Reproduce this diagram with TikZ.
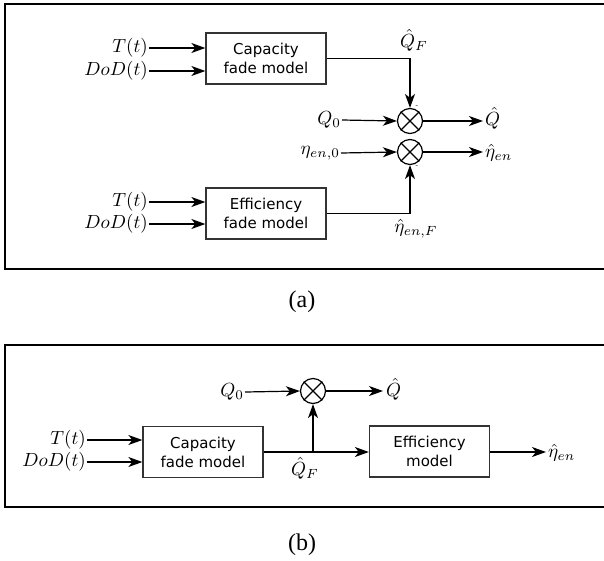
\documentclass[tikz,border=0pt]{standalone}
\usepackage{graphicx}
\usepackage{fontspec}
\setsansfont{DejaVu Sans}
\newfontfamily\capfont{Liberation Serif}
\usetikzlibrary{arrows.meta}
\newcommand{\mlbl}[1]{\scalebox{1.9}{$#1$}}
\begin{document}
\begin{tikzpicture}[x=1pt,y=-1pt,
  mathlbl/.style={inner sep=1pt},
  blk/.style={draw=black!80,line width=1.3pt,minimum width=120pt,minimum height=51pt,
    align=center,inner sep=0pt,font=\sffamily\fontsize{15}{19}\selectfont},
  mult/.style={draw,circle,line width=1.2pt,minimum size=25pt,inner sep=0pt},
  conn/.style={line width=1.2pt,-{Stealth[length=14pt,width=10pt,inset=4pt]}},
  plainline/.style={line width=1.2pt},
  frame/.style={line width=2.4pt},
  minus/.style={inner sep=0pt,font=\fontsize{7}{7}\selectfont},
  caption/.style={font=\capfont\fontsize{24}{26}\selectfont}]
\useasboundingbox (0,0) rectangle (604,560);
\clip (0,0) rectangle (604,560);
\fill[white] (0,0) rectangle (604,560);
% frames
\draw[frame] (5,4) rectangle (615,269);
\draw[frame] (5,345) rectangle (615,507);
% ---------- (a) ----------
\node[blk] (cap) at (266,58.5) {Capacity\\fade model};
\node[blk] (eff) at (266,213.5) {Efficiency\\fade model};
\node[mult] (m1) at (410,121) {};
\node[mult] (m2) at (410,152) {};
\foreach \m in {m1,m2}{
  \draw[line width=1.1pt] (\m.north east) -- (\m.south west);
  \draw[line width=1.1pt] (\m.north west) -- (\m.south east);}
\node[mathlbl,anchor=east] (ta) at (149,48) {\mlbl{T(t)}};
\node[mathlbl,anchor=east] (da) at (149,71) {\mlbl{DoD(t)}};
\node[mathlbl,anchor=east] (te) at (149,202) {\mlbl{T(t)}};
\node[mathlbl,anchor=east] (de) at (149,224) {\mlbl{DoD(t)}};
\draw[conn] (ta.east) -- (cap.west |- ta.east);
\draw[conn] (da.east) -- (cap.west |- da.east);
\draw[conn] (te.east) -- (eff.west |- te.east);
\draw[conn] (de.east) -- (eff.west |- de.east);
\node[mathlbl,anchor=east] (q0a) at (342,120) {\mlbl{Q_0}};
\node[mathlbl,anchor=east] (e0a) at (341,153) {\mlbl{\eta_{en,0}}};
\draw[conn] (q0a.east) -- (m1.west);
\draw[conn] (e0a.east) -- (m2.west);
\coordinate (qfc) at (410,58.5);
\coordinate (efc) at (410,213.5);
\draw[conn] (cap.east) -- (qfc) -- (m1.north);
\draw[conn] (eff.east) -- (efc) -- (m2.south);
\node[mathlbl] (qfa) at (414,40) {\mlbl{\hat{Q}_F}};
\node[mathlbl] (efa) at (416,229) {\mlbl{\hat{\eta}_{en,F}}};
\coordinate (qo) at (483,121);
\coordinate (eo) at (483,152);
\draw[conn] (m1.east) -- (qo);
\draw[conn] (m2.east) -- (eo);
\node[mathlbl,anchor=west] (qha) at (484,118) {\mlbl{\hat{Q}}};
\node[mathlbl,anchor=west] (eha) at (484,153) {\mlbl{\hat{\eta}_{en}}};
\node[minus] (mi1) at (417,107) {-};
\node[minus] (mi2) at (417,167) {-};
\node[caption] (capa) at (302,302) {(a)};
% ---------- (b) ----------
\node[blk] (capb) at (203,452) {Capacity\\fade model};
\node[blk] (effb) at (429.5,451.5) {Efficiency\\model};
\node[mult] (m3) at (313,391) {};
\draw[line width=1.1pt] (m3.north east) -- (m3.south west);
\draw[line width=1.1pt] (m3.north west) -- (m3.south east);
\node[mathlbl,anchor=east] (tb) at (87,440) {\mlbl{T(t)}};
\node[mathlbl,anchor=east] (db) at (87,462) {\mlbl{DoD(t)}};
\draw[conn] (tb.east) -- (capb.west |- tb.east);
\draw[conn] (db.east) -- (capb.west |- db.east);
\node[mathlbl,anchor=east] (q0b) at (245,392) {\mlbl{Q_0}};
\draw[conn] (q0b.east) -- (m3.west);
\coordinate (jb) at (313,452);
\draw[plainline] (capb.east) -- (jb);
\draw[conn] (jb) -- (m3.south);
\draw[conn] (jb) -- (effb.west |- jb);
\coordinate (qob) at (383,391);
\draw[conn] (m3.east) -- (qob);
\node[mathlbl,anchor=west] (qhb) at (385,389) {\mlbl{\hat{Q}}};
\node[mathlbl] (qfb) at (305,468) {\mlbl{\hat{Q}_F}};
\coordinate (eob) at (546,452);
\draw[conn] (effb.east |- jb) -- (eob);
\node[mathlbl,anchor=west] (ehb) at (547,453) {\mlbl{\hat{\eta}_{en}}};
\node[caption] (capb2) at (302,545) {(b)};
\end{tikzpicture}
\end{document}
